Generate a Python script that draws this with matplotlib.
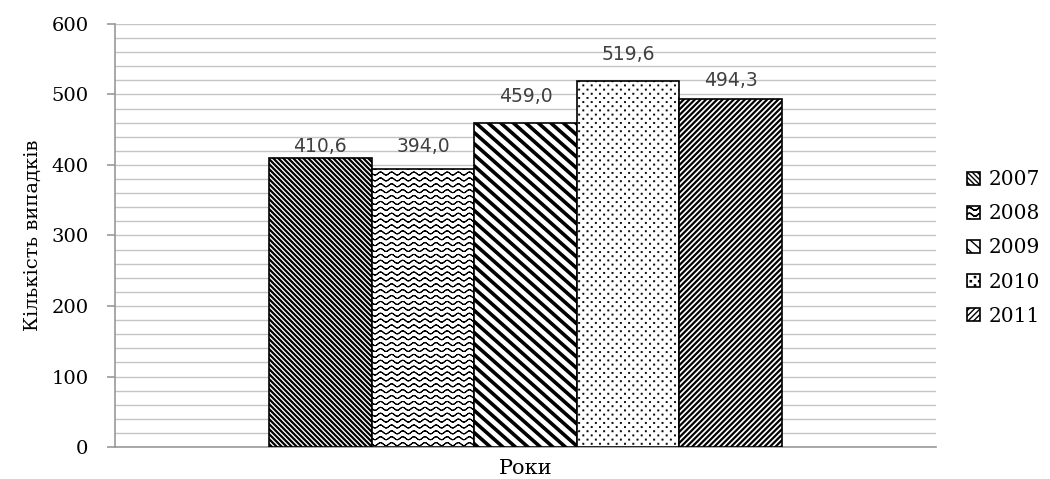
import warnings
warnings.filterwarnings("ignore")
import numpy as np
import matplotlib
matplotlib.use("Agg")
import matplotlib.pyplot as plt
import matplotlib.hatch as mhatch
from matplotlib.path import Path
from matplotlib.patches import Rectangle
from matplotlib.ticker import MultipleLocator

# ---- data ----
years = ["2007", "2008", "2009", "2010", "2011"]
values = [410.6, 394.0, 459.0, 519.6, 494.3]
value_labels = ["410,6", "394,0", "459,0", "519,6", "494,3"]
category = "Роки"
y_label = "Кількість випадків"

DPI = 100

# ---- measure the hatch tile size (pixels) at this dpi ----
def measure_tile():
    try:
        f = plt.figure(figsize=(6, 1), dpi=DPI)
        a = f.add_axes([0, 0, 1, 1])
        a.set_axis_off()
        a.add_patch(Rectangle((0, 0), 1, 1, transform=a.transAxes,
                              facecolor="white", edgecolor="black",
                              linewidth=0, hatch="|"))
        f.canvas.draw()
        img = np.asarray(f.canvas.buffer_rgba())[:, :, 0].astype(float)
        plt.close(f)
        row = img[img.shape[0] // 2, 5:-5] < 160
        rises = np.where(row[1:] & ~row[:-1])[0]
        if len(rises) >= 3:
            spacing = (rises[-1] - rises[0]) / (len(rises) - 1)
            return spacing * 6.0
    except Exception:
        pass
    return float(DPI)

TILE = measure_tile()

# ---- custom hatch generators (unit tile coords, y up) ----
def _retrace(xs, ys):
    x = np.concatenate([xs, xs[::-1]])
    y = np.concatenate([ys, ys[::-1]])
    return x, y

def slanted_lines(v_px, slope, descending):
    n = max(1, int(round(TILE / v_px)))
    m = max(1, int(round(slope * n)))
    s = m / n
    verts, codes = [], []
    xs = np.array([-0.1, 1.1])
    for k in range(-m - 2, n + m + 3):
        c = k / n
        ys = (-s * xs + c) if descending else (s * xs + c)
        verts += [[xs[0], ys[0]], [xs[1], ys[1]]]
        codes += [Path.MOVETO, Path.LINETO]
    return np.array(verts), np.array(codes, dtype=Path.code_type)

def waves(v_px, wavelength_px, amp_px):
    n = max(1, int(round(TILE / v_px)))
    p = max(1, int(round(TILE / wavelength_px)))
    amp = amp_px / TILE
    npts = p * 12 + 1
    xs = np.linspace(-0.02, 1.02, npts)
    verts, codes = [], []
    for k in range(-1, n + 1):
        y0 = (k + 0.5) / n
        ys = y0 + amp * np.sin(2 * np.pi * p * xs)
        x2, y2 = _retrace(xs, ys)
        verts += list(zip(x2, y2))
        codes += [Path.MOVETO] + [Path.LINETO] * (len(x2) - 1)
    return np.array(verts), np.array(codes, dtype=Path.code_type)

def dots(h_px, v_px, size_px):
    nc = max(1, int(round(TILE / h_px)))
    nr = max(2, int(round(TILE / v_px)))
    if nr % 2:
        nr += 1
    d = size_px / TILE / 2
    verts, codes = [], []
    for r in range(nr):
        y = (r + 0.5) / nr
        shift = 0.5 if r % 2 else 0.0
        for c in range(-1, nc + 1):
            x = (c + 0.5 + shift) / nc
            verts += [[x - d, y - d], [x + d, y - d], [x + d, y + d],
                      [x - d, y + d], [x - d, y - d]]
            codes += [Path.MOVETO, Path.LINETO, Path.LINETO, Path.LINETO,
                      Path.CLOSEPOLY]
    return np.array(verts), np.array(codes, dtype=Path.code_type)

CUSTOM = {
    "1": lambda: slanted_lines(5.0, 1.0, True),      # 2007 dense downward
    "2": lambda: waves(6.0, 11.0, 1.5),              # 2008 wave
    "3": lambda: slanted_lines(11.0, 0.85, True),    # 2009 wide downward
    "4": lambda: dots(8.0, 4.3, 1.2),                # 2010 dots
    "5": lambda: slanted_lines(5.5, 1.0, False),     # 2011 upward
}

class CustomHatch(mhatch.HatchPatternBase):
    def __init__(self, hatch, density):
        self.parts = [CUSTOM[ch]() for ch in hatch if ch in CUSTOM]
        self.num_vertices = int(sum(len(v) for v, c in self.parts))

    def set_vertices_and_codes(self, vertices, codes):
        i = 0
        for v, c in self.parts:
            vertices[i:i + len(v)] = v
            codes[i:i + len(v)] = c
            i += len(v)

mhatch._hatch_types.append(CustomHatch)

hatches = ["1", "2", "3", "4", "5"]
hatch_lw = [1.6, 0.75, 2.6, 0.5, 1.6]
label_offsets_px = [11, 23, 27, 26, 18]

SERIF = ["DejaVu Serif"]

fig = plt.figure(figsize=(10.5, 4.79), dpi=DPI)
ax = fig.add_axes([115 / 1050, 32 / 479, (936 - 115) / 1050, (447 - 24) / 479])

width = 0.125
n = len(years)
x0 = 0.0
offsets = (np.arange(n) - (n - 1) / 2) * width
for i in range(n):
    with plt.rc_context({"hatch.linewidth": hatch_lw[i]}):
        b = ax.bar(x0 + offsets[i], values[i], width, color="white",
                   edgecolor="black", linewidth=1.2, hatch=hatches[i],
                   label=years[i], zorder=3)
    for p in b:
        if hasattr(p, "set_hatch_linewidth"):
            p.set_hatch_linewidth(hatch_lw[i])

for i in range(n):
    ax.annotate(value_labels[i], (x0 + offsets[i], values[i]),
                xytext=(0, label_offsets_px[i] * 72 / DPI), textcoords="offset points",
                ha="center", va="center", fontsize=13.5, color="#404040",
                family="DejaVu Sans")

ax.set_xlim(-0.5, 0.5)
ax.set_ylim(0, 600)
ax.yaxis.set_major_locator(MultipleLocator(100))
ax.yaxis.set_minor_locator(MultipleLocator(20))
ax.grid(True, which="both", axis="y", color="#c4c4c4", linewidth=1.0, zorder=0)
ax.set_axisbelow(True)
ax.set_xticks([])
ax.tick_params(axis="y", which="major", length=6, width=1.2, color="#999999",
               pad=13, labelsize=14)
ax.tick_params(axis="y", which="minor", length=0)
for lab in ax.get_yticklabels():
    lab.set_family(SERIF)

for s in ["top", "right"]:
    ax.spines[s].set_visible(False)
for s in ["left", "bottom"]:
    ax.spines[s].set_color("#999999")
    ax.spines[s].set_linewidth(1.2)

ax.set_ylabel(y_label, family=SERIF, fontsize=14, labelpad=7)
ax.set_xlabel(category, family=SERIF, fontsize=15, labelpad=9)

fig.legend(loc="center left", bbox_to_anchor=(959 / 1050, 1 - 248 / 479),
           frameon=False, prop={"family": SERIF, "size": 14.5},
           handlelength=0.62, handleheight=0.62, handletextpad=0.45,
           labelspacing=0.75, borderaxespad=0)

fig.savefig("out.png", dpi=DPI)
